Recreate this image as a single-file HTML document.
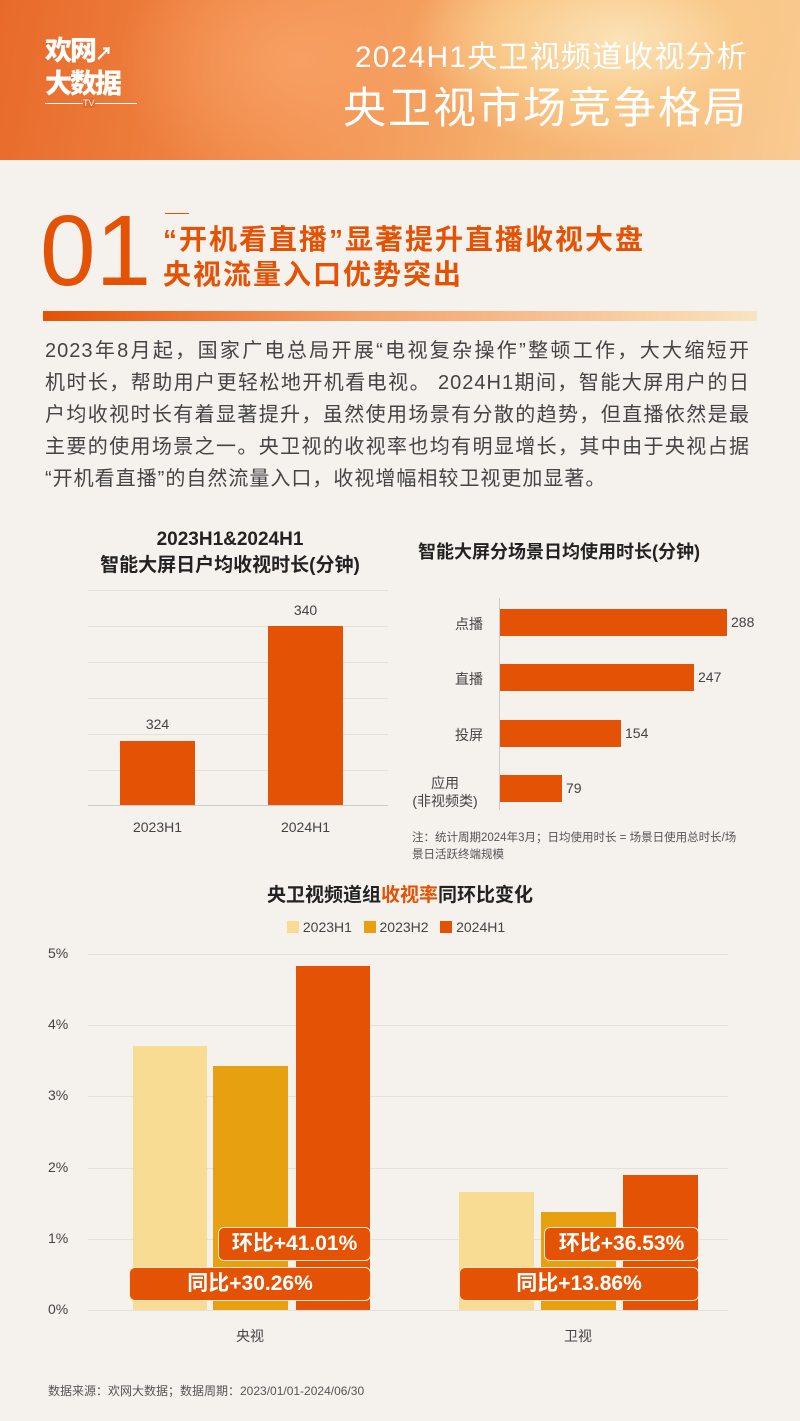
<!DOCTYPE html>
<html><head><meta charset="utf-8"><style>
*{margin:0;padding:0;box-sizing:border-box}
body{width:800px;height:1421px;background:#f5f1ed;font-family:"Liberation Sans","Noto Sans CJK SC",sans-serif;position:relative;overflow:hidden;color:#333}
.a{position:absolute;white-space:nowrap}
.hdr{position:absolute;left:0;top:0;width:800px;height:160px;background:radial-gradient(ellipse 300px 160px at 620px 40px,#fbe3b8 0%,#f9c98a 40%,transparent 70%),radial-gradient(ellipse 260px 200px at 300px 60px,#f7a064 0%,transparent 70%),linear-gradient(100deg,#e86a2a 0%,#f08a48 35%,#f6b06e 65%,#f9cb92 100%)}
.g{position:absolute;height:1px;background:#e6e0da}
.bar{position:absolute;background:#e35205}
.lbl{position:absolute;font-size:14px;color:#444;white-space:nowrap}
.box{position:absolute;background:#e35205;border:1.5px solid #fbe7c8;border-radius:6px;color:#fff;font-size:21px;font-weight:bold;text-align:center;line-height:31px}
.p div{width:705px;text-align:justify;text-align-last:justify;white-space:nowrap;height:32px}
.p div.l{text-align-last:left}
</style></head><body>
<div class="hdr"></div>
<div class="a" style="left:45px;top:36px;color:#fff;font-weight:900;font-size:27px;line-height:30px;letter-spacing:-2px">欢网<span style="font-size:18px">↗</span><br>大数据</div>
<div class="a" style="left:45px;top:103px;width:92px;height:1px;background:#fff"></div>
<div class="a" style="left:83px;top:98px;color:#fff;font-size:9px;background:#e86a2a">TV</div>
<div class="a" style="right:52px;top:40px;color:#fff;font-size:30px;line-height:36px;letter-spacing:1.2px">2024H1央卫视频道收视分析</div>
<div class="a" style="right:52px;top:84px;color:#fff;font-size:43px;line-height:50px;letter-spacing:2px">央卫视市场竞争格局</div>

<div class="a" style="left:40px;top:196px;color:#e35205;font-size:100px;line-height:110px;font-weight:300">01</div>
<div class="a" style="left:165px;top:213px;width:24px;height:1px;background:#e35205"></div>
<div class="a" style="left:163px;top:222px;color:#e35205;font-size:28px;font-weight:bold;line-height:35px;letter-spacing:2px">“开机看直播”显著提升直播收视大盘<br>央视流量入口优势突出</div>
<div class="a" style="left:43px;top:311px;width:714px;height:10px;background:linear-gradient(90deg,#e35205,#f4a26c 45%,#f9e3c0)"></div>

<div class="a p" style="left:45px;top:335px;font-size:20px;line-height:32px;color:#444;letter-spacing:1px">
<div>2023年8月起，国家广电总局开展“电视复杂操作”整顿工作，大大缩短开</div>
<div>机时长，帮助用户更轻松地开机看电视。 2024H1期间，智能大屏用户的日</div>
<div>户均收视时长有着显著提升，虽然使用场景有分散的趋势，但直播依然是最</div>
<div>主要的使用场景之一。央卫视的收视率也均有明显增长，其中由于央视占据</div>
<div class="l">“开机看直播”的自然流量入口，收视增幅相较卫视更加显著。</div>
</div>

<div class="a" style="left:80px;top:527px;width:300px;text-align:center;font-size:19px;font-weight:bold;line-height:26px;color:#222">2023H1&amp;2024H1<br>智能大屏日户均收视时长(分钟)</div>
<div class="g" style="left:88px;top:590px;width:300px"></div>
<div class="g" style="left:88px;top:626px;width:300px"></div>
<div class="g" style="left:88px;top:662px;width:300px"></div>
<div class="g" style="left:88px;top:698px;width:300px"></div>
<div class="g" style="left:88px;top:734px;width:300px"></div>
<div class="g" style="left:88px;top:770px;width:300px"></div>
<div class="g" style="left:88px;top:805px;width:300px;background:#ccc"></div>
<div class="bar" style="left:120px;top:741px;width:75px;height:64px"></div>
<div class="bar" style="left:268px;top:626px;width:75px;height:179px"></div>
<div class="lbl" style="left:120px;top:716px;width:75px;text-align:center">324</div>
<div class="lbl" style="left:268px;top:602px;width:75px;text-align:center">340</div>
<div class="lbl" style="left:120px;top:819px;width:75px;text-align:center">2023H1</div>
<div class="lbl" style="left:268px;top:819px;width:75px;text-align:center">2024H1</div>

<div class="a" style="left:418px;top:538px;font-size:18px;font-weight:bold;color:#222">智能大屏分场景日均使用时长(分钟)</div>
<div class="a" style="left:499px;top:598px;width:1px;height:212px;background:#ccc"></div>
<div class="bar" style="left:500px;top:609px;width:227px;height:27px"></div>
<div class="bar" style="left:500px;top:664px;width:194px;height:27px"></div>
<div class="bar" style="left:500px;top:720px;width:121px;height:27px"></div>
<div class="bar" style="left:500px;top:775px;width:62px;height:27px"></div>
<div class="lbl" style="left:731px;top:614px">288</div>
<div class="lbl" style="left:698px;top:669px">247</div>
<div class="lbl" style="left:625px;top:725px">154</div>
<div class="lbl" style="left:566px;top:780px">79</div>
<div class="lbl" style="left:400px;top:614px;width:83px;text-align:right">点播</div>
<div class="lbl" style="left:400px;top:669px;width:83px;text-align:right">直播</div>
<div class="lbl" style="left:400px;top:725px;width:83px;text-align:right">投屏</div>
<div class="lbl" style="left:400px;top:774px;width:90px;text-align:center;line-height:18px">应用<br>(非视频类)</div>
<div class="a" style="left:412px;top:830px;font-size:11.5px;line-height:17px;color:#555">注：统计周期2024年3月；日均使用时长 = 场景日使用总时长/场<br>景日活跃终端规模</div>

<div class="a" style="left:0;top:880px;width:800px;text-align:center;font-size:19px;font-weight:bold;color:#222">央卫视频道组<span style="color:#e35205">收视率</span>同环比变化</div>
<div class="a" style="left:287px;top:919px;font-size:14px;color:#444"><span style="display:inline-block;width:12px;height:12px;background:#f8dc94;vertical-align:-1px"></span> 2023H1 &nbsp;&nbsp;<span style="display:inline-block;width:12px;height:12px;background:#e6a010;vertical-align:-1px"></span> 2023H2 &nbsp;&nbsp;<span style="display:inline-block;width:12px;height:12px;background:#e35205;vertical-align:-1px"></span> 2024H1</div>
<div class="g" style="left:88px;top:954px;width:640px"></div>
<div class="g" style="left:88px;top:1025px;width:640px"></div>
<div class="g" style="left:88px;top:1096px;width:640px"></div>
<div class="g" style="left:88px;top:1168px;width:640px"></div>
<div class="g" style="left:88px;top:1239px;width:640px"></div>
<div class="g" style="left:88px;top:1310px;width:640px"></div>
<div class="lbl" style="left:48px;top:945px">5%</div>
<div class="lbl" style="left:48px;top:1016px">4%</div>
<div class="lbl" style="left:48px;top:1087px">3%</div>
<div class="lbl" style="left:48px;top:1159px">2%</div>
<div class="lbl" style="left:48px;top:1230px">1%</div>
<div class="lbl" style="left:48px;top:1301px">0%</div>
<div class="bar" style="left:133px;top:1046px;width:74px;height:264px;background:#f8dc94"></div>
<div class="bar" style="left:213px;top:1066px;width:75px;height:244px;background:#e6a010"></div>
<div class="bar" style="left:296px;top:966px;width:74px;height:344px"></div>
<div class="bar" style="left:459px;top:1192px;width:75px;height:118px;background:#f8dc94"></div>
<div class="bar" style="left:541px;top:1212px;width:75px;height:98px;background:#e6a010"></div>
<div class="bar" style="left:623px;top:1175px;width:75px;height:135px"></div>
<div class="box" style="left:218px;top:1227px;width:153px;height:34px">环比+41.01%</div>
<div class="box" style="left:129px;top:1267px;width:242px;height:34px">同比+30.26%</div>
<div class="box" style="left:544px;top:1227px;width:155px;height:34px">环比+36.53%</div>
<div class="box" style="left:459px;top:1267px;width:240px;height:34px">同比+13.86%</div>
<div class="lbl" style="left:200px;top:1326px;width:100px;text-align:center">央视</div>
<div class="lbl" style="left:528px;top:1326px;width:100px;text-align:center">卫视</div>
<div class="a" style="left:48px;top:1382px;font-size:12px;color:#555">数据来源：欢网大数据；数据周期：2023/01/01-2024/06/30</div>
</body></html>
